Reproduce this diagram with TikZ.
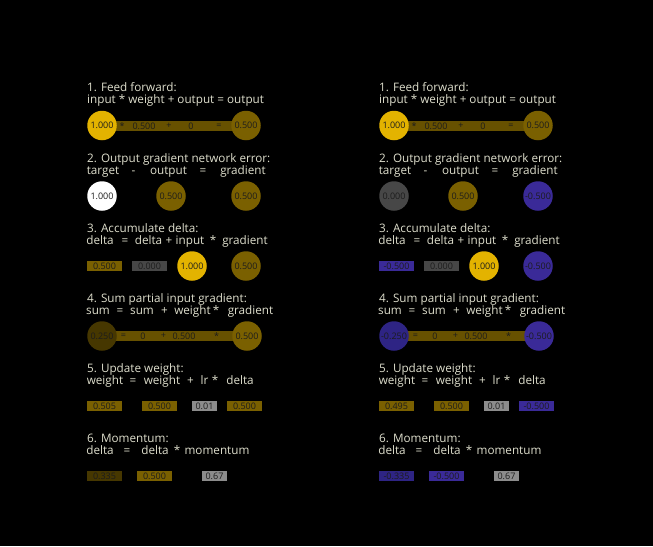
\documentclass[tikz,border=0pt]{standalone}
\usepackage{fontspec}
\setmainfont{Open Sans}
\usetikzlibrary{backgrounds}
\definecolor{txt}{HTML}{DEDECC}
\definecolor{numc}{HTML}{1C1C1C}
\definecolor{ylw}{HTML}{E3B300}
\definecolor{olv}{HTML}{7A6000}
\definecolor{dolv}{HTML}{463700}
\definecolor{barc}{HTML}{675100}
\definecolor{dgray}{HTML}{474747}
\definecolor{lgray}{HTML}{8C8C8C}
\definecolor{blu}{HTML}{3A2A98}
\definecolor{dblu}{HTML}{2E2484}
\begin{document}
\begin{tikzpicture}[x=1pt,y=-1pt,
  ttl/.style={text=txt, font=\fontsize{11.7}{14}\selectfont, anchor=base west, inner sep=0pt},
  wd/.style={text=txt, font=\fontsize{11.7}{14}\selectfont, anchor=base, inner sep=0pt},
  num/.style={font=\fontsize{9}{10}\selectfont, text=numc, inner sep=0pt},
  ball/.style={num, circle, minimum size=29.5pt},
  cell/.style={num, minimum width=35pt, minimum height=10pt},
  smallcell/.style={num, minimum width=25pt, minimum height=10pt},
  bar/.style={line width=10pt, barc}]
\useasboundingbox (0,0) rectangle (653,546);

% ================= LEFT PANEL =================
% 1
\node[ttl] (L1t) at (87,91.5) {1. Feed forward:};
\node[ttl] (L1e) at (87,103.5) {input * weight + output = output};
\node[ball, fill=ylw] (L1a) at (102,125.5) {1.000};
\node[ball, fill=olv] (L1b) at (246,125.5) {0.500};
\node[num] (L1o1) at (122,126) {*};
\node[num] (L1v1) at (144,126) {0.500};
\node[num] (L1o2) at (169,126) {+};
\node[num] (L1v2) at (191,126) {0};
\node[num] (L1o3) at (219,126) {=};
% 2
\node[ttl] (L2t) at (87,162) {2. Output gradient network error:};
\node[wd] (L2w1) at (103,174) {target};
\node[wd] (L2w2) at (133.5,174) {-};
\node[wd] (L2w3) at (168.5,174) {output};
\node[wd] (L2w4) at (203,174) {=};
\node[wd] (L2w5) at (243,174) {gradient};
\node[ball, fill=white] (L2a) at (102,196) {1.000};
\node[ball, fill=olv] (L2b) at (171,196) {0.500};
\node[ball, fill=olv] (L2c) at (246,196) {0.500};
% 3
\node[ttl] (L3t) at (87,232) {3. Accumulate delta:};
\node[wd] (L3w1) at (100,244) {delta};
\node[wd] (L3w2) at (125,244) {=};
\node[wd] (L3w3) at (148.5,244) {delta};
\node[wd] (L3w4) at (169,244) {+};
\node[wd] (L3w5) at (190,244) {input};
\node[wd] (L3w6) at (213,244) {*};
\node[wd] (L3w7) at (245,244) {gradient};
\node[cell, fill=olv] (L3a) at (104.5,266) {0.500};
\node[cell, fill=dgray] (L3b) at (149.5,266) {0.000};
\node[ball, fill=ylw] (L3c) at (192,266) {1.000};
\node[ball, fill=olv] (L3d) at (246,266) {0.500};
% 4
\node[ttl] (L4t) at (87,302) {4. Sum partial input gradient:};
\node[wd] (L4w1) at (98,314) {sum};
\node[wd] (L4w2) at (120,314) {=};
\node[wd] (L4w3) at (142,314) {sum};
\node[wd] (L4w4) at (164.5,314) {+};
\node[wd] (L4w5) at (192.5,314) {weight};
\node[wd] (L4w6) at (216,314) {*};
\node[wd] (L4w7) at (250.5,314) {gradient};
\node[ball, fill=dolv] (L4a) at (102,336) {0.250};
\node[ball, fill=olv] (L4b) at (247,336) {0.500};
\node[num] (L4o1) at (123.5,336) {=};
\node[num] (L4v1) at (143,336) {0};
\node[num] (L4o2) at (163.5,336) {+};
\node[num] (L4v2) at (184,336) {0.500};
\node[num] (L4o3) at (216.5,336) {*};
% 5
\node[ttl] (L5t) at (87,372) {5. Update weight:};
\node[wd] (L5w1) at (105,384) {weight};
\node[wd] (L5w2) at (133,384) {=};
\node[wd] (L5w3) at (162,384) {weight};
\node[wd] (L5w4) at (190.5,384) {+};
\node[wd] (L5w5) at (204.5,384) {lr};
\node[wd] (L5w6) at (215,384) {*};
\node[wd] (L5w7) at (240,384) {delta};
\node[cell, fill=olv] (L5a) at (104.5,406) {0.505};
\node[cell, fill=olv] (L5b) at (159.5,406) {0.500};
\node[smallcell, fill=lgray] (L5c) at (204.5,406) {0.01};
\node[cell, fill=olv] (L5d) at (244.5,406) {0.500};
% 6
\node[ttl] (L6t) at (87,442) {6. Momentum:};
\node[wd] (L6w1) at (100,454) {delta};
\node[wd] (L6w2) at (127,454) {=};
\node[wd] (L6w3) at (155,454) {delta};
\node[wd] (L6w4) at (177,454) {*};
\node[wd] (L6w5) at (217,454) {momentum};
\node[cell, fill=dolv] (L6a) at (104.5,476) {0.335};
\node[cell, fill=olv] (L6b) at (154.5,476) {0.500};
\node[smallcell, fill=lgray] (L6c) at (214.5,476) {0.67};

% ================= RIGHT PANEL =================
\begin{scope}[xshift=292pt]
% 1
\node[ttl] (R1t) at (87,91.5) {1. Feed forward:};
\node[ttl] (R1e) at (87,103.5) {input * weight + output = output};
\node[ball, fill=ylw] (R1a) at (102,125.5) {1.000};
\node[ball, fill=olv] (R1b) at (246,125.5) {0.500};
\node[num] (R1o1) at (122,126) {*};
\node[num] (R1v1) at (144,126) {0.500};
\node[num] (R1o2) at (169,126) {+};
\node[num] (R1v2) at (191,126) {0};
\node[num] (R1o3) at (219,126) {=};
% 2
\node[ttl] (R2t) at (87,162) {2. Output gradient network error:};
\node[wd] (R2w1) at (103,174) {target};
\node[wd] (R2w2) at (133.5,174) {-};
\node[wd] (R2w3) at (168.5,174) {output};
\node[wd] (R2w4) at (203,174) {=};
\node[wd] (R2w5) at (243,174) {gradient};
\node[ball, fill=dgray] (R2a) at (102,196) {0.000};
\node[ball, fill=olv] (R2b) at (171,196) {0.500};
\node[ball, fill=blu] (R2c) at (246,196) {-0.500};
% 3
\node[ttl] (R3t) at (87,232) {3. Accumulate delta:};
\node[wd] (R3w1) at (100,244) {delta};
\node[wd] (R3w2) at (125,244) {=};
\node[wd] (R3w3) at (148.5,244) {delta};
\node[wd] (R3w4) at (169,244) {+};
\node[wd] (R3w5) at (190,244) {input};
\node[wd] (R3w6) at (213,244) {*};
\node[wd] (R3w7) at (245,244) {gradient};
\node[cell, fill=blu] (R3a) at (104.5,266) {-0.500};
\node[cell, fill=dgray] (R3b) at (149.5,266) {0.000};
\node[ball, fill=ylw] (R3c) at (192,266) {1.000};
\node[ball, fill=blu] (R3d) at (246,266) {-0.500};
% 4
\node[ttl] (R4t) at (87,302) {4. Sum partial input gradient:};
\node[wd] (R4w1) at (98,314) {sum};
\node[wd] (R4w2) at (120,314) {=};
\node[wd] (R4w3) at (142,314) {sum};
\node[wd] (R4w4) at (164.5,314) {+};
\node[wd] (R4w5) at (192.5,314) {weight};
\node[wd] (R4w6) at (216,314) {*};
\node[wd] (R4w7) at (250.5,314) {gradient};
\node[ball, fill=dblu] (R4a) at (102,336) {-0.250};
\node[ball, fill=blu] (R4b) at (247,336) {-0.500};
\node[num] (R4o1) at (123.5,336) {=};
\node[num] (R4v1) at (143,336) {0};
\node[num] (R4o2) at (163.5,336) {+};
\node[num] (R4v2) at (184,336) {0.500};
\node[num] (R4o3) at (216.5,336) {*};
% 5
\node[ttl] (R5t) at (87,372) {5. Update weight:};
\node[wd] (R5w1) at (105,384) {weight};
\node[wd] (R5w2) at (133,384) {=};
\node[wd] (R5w3) at (162,384) {weight};
\node[wd] (R5w4) at (190.5,384) {+};
\node[wd] (R5w5) at (204.5,384) {lr};
\node[wd] (R5w6) at (215,384) {*};
\node[wd] (R5w7) at (240,384) {delta};
\node[cell, fill=olv] (R5a) at (104.5,406) {0.495};
\node[cell, fill=olv] (R5b) at (159.5,406) {0.500};
\node[smallcell, fill=lgray] (R5c) at (204.5,406) {0.01};
\node[cell, fill=blu] (R5d) at (244.5,406) {-0.500};
% 6
\node[ttl] (R6t) at (87,442) {6. Momentum:};
\node[wd] (R6w1) at (100,454) {delta};
\node[wd] (R6w2) at (127,454) {=};
\node[wd] (R6w3) at (155,454) {delta};
\node[wd] (R6w4) at (177,454) {*};
\node[wd] (R6w5) at (217,454) {momentum};
\node[cell, fill=dblu] (R6a) at (104.5,476) {-0.335};
\node[cell, fill=blu] (R6b) at (154.5,476) {-0.500};
\node[smallcell, fill=lgray] (R6c) at (214.5,476) {0.67};
\end{scope}

\begin{scope}[on background layer]
\fill[black] (0,0) rectangle (653,546);
\draw[bar] (L1a.center) -- (L1b.center);
\draw[bar] (L4a.center) -- (L4b.center);
\draw[bar] (R1a.center) -- (R1b.center);
\draw[bar] (R4a.center) -- (R4b.center);
\end{scope}
\end{tikzpicture}
\end{document}
